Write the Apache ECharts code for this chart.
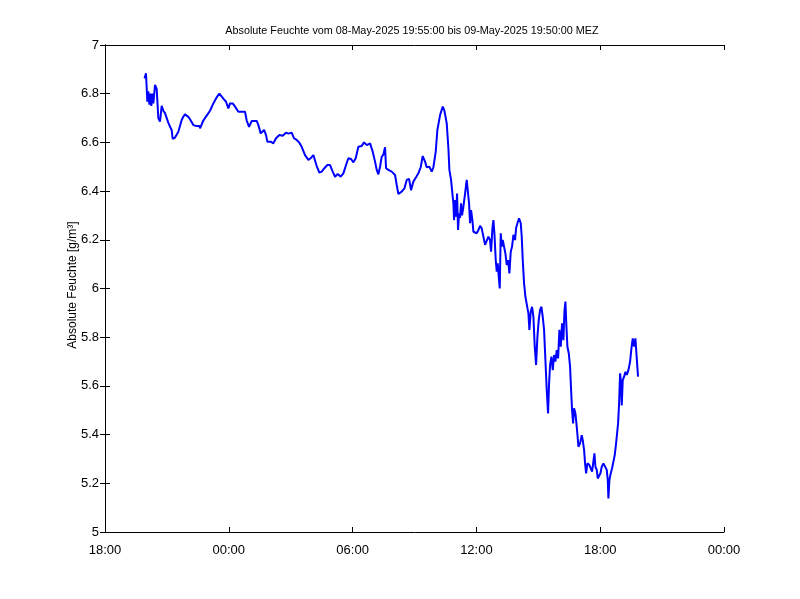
<!DOCTYPE html>
<html>
<head>
<meta charset="utf-8">
<script src="https://cdn.jsdelivr.net/npm/echarts@6/dist/echarts.min.js"></script>
<style>
html,body{margin:0;padding:0;background:#fff;}
#chart{width:800px;height:599px;}
</style>
</head>
<body>
<div id="chart"></div>
<script>
// Hours since 08-May-2025 18:00 (MEZ)
const hours = [
1.917,1.987,2.052,2.100,2.149,2.198,2.246,2.294,2.343,2.424,2.504,2.585,2.666,2.747,2.828,2.908,3.070,3.151,3.232,3.280,
3.393,3.555,3.716,3.797,3.878,3.959,4.040,4.120,4.282,4.443,4.573,4.605,4.767,4.928,5.090,5.251,5.413,5.542,5.736,5.865,
5.978,6.059,6.189,6.302,6.463,6.787,6.867,6.980,7.110,7.352,7.433,7.546,7.708,7.804,7.869,8.030,8.160,8.289,8.451,8.612,
8.774,8.887,9.048,9.161,9.290,9.420,
9.533,9.695,9.856,9.969,10.099,10.179,10.260,10.389,10.503,10.632,10.777,10.907,11.036,11.149,11.278,11.424,11.553,11.682,11.795,11.925,
12.038,12.151,12.280,12.441,12.555,12.684,12.846,12.975,13.088,13.169,13.249,13.330,13.411,13.492,13.573,13.621,13.734,13.896,14.057,14.138,
14.219,14.380,14.510,14.623,14.736,14.833,14.946,15.075,15.188,15.301,15.398,15.511,15.592,15.721,15.835,15.915,16.029,16.109,16.239,16.368,
16.449,16.562,16.643,16.691,
16.772,16.837,16.885,16.917,16.966,17.014,17.063,17.111,17.160,17.208,17.257,17.305,17.370,17.451,17.531,17.580,17.644,17.693,17.741,17.806,
17.855,17.935,18.016,18.097,18.178,18.258,18.339,18.420,18.501,18.582,18.662,18.711,18.776,18.824,18.873,18.937,18.986,19.034,19.083,19.131,
19.180,19.228,19.276,19.341,19.406,19.470,19.535,19.600,19.664,19.729,19.794,19.874,19.923,19.987,20.068,20.149,20.197,20.246,20.311,20.375,
20.440,20.521,20.569,20.634,20.698,20.763,20.828,20.892,20.957,21.022,21.086,21.151,21.215,21.280,21.345,21.409,21.474,21.522,21.571,21.636,
21.700,21.765,21.830,21.894,21.959,22.023,22.088,22.153,22.217,22.266,22.314,22.363,22.411,22.476,22.540,22.589,22.637,22.686,22.734,22.799,
22.864,22.912,
22.944,23.025,23.106,23.154,23.219,23.267,23.316,23.380,23.477,23.542,23.607,23.671,23.720,23.768,23.833,23.881,23.946,24.011,24.075,24.156,
24.237,24.318,24.366,24.398,24.447,24.511,24.576,24.641,24.705,24.770,24.818,24.867,24.915,24.964,24.996,25.045,25.093,25.158,25.223,25.287,
25.368,25.449,25.513,25.578,25.643,25.707,25.772,25.833
];
// Absolute humidity in g/m³
const values = [
6.863,6.884,6.767,6.81,6.755,6.80,6.75,6.80,6.76,6.836,6.82,6.70,6.685,6.75,6.73,6.72,6.68,6.675,6.65,6.614,
6.62,6.644,6.692,6.706,6.715,6.722,6.705,6.695,6.671,6.667,6.667,6.658,6.69,6.71,6.73,6.76,6.785,6.80,6.78,6.767,
6.74,6.76,6.76,6.747,6.726,6.726,6.69,6.664,6.688,6.688,6.671,6.637,6.651,6.63,6.603,6.603,6.596,6.617,6.63,6.627,
6.64,6.636,6.64,6.617,6.61,6.599,
6.582,6.548,6.528,6.535,6.548,6.545,6.503,6.476,6.48,6.494,6.507,6.507,6.48,6.459,6.47,6.459,6.473,6.507,6.535,6.532,
6.518,6.535,6.582,6.585,6.60,6.589,6.596,6.562,6.521,6.487,6.469,6.50,6.541,6.55,6.58,6.494,6.487,6.48,6.466,6.425,
6.388,6.398,6.411,6.446,6.45,6.404,6.439,6.457,6.473,6.498,6.544,6.521,6.498,6.50,6.48,6.498,6.562,6.651,6.712,6.747,
6.73,6.678,6.576,6.487,
6.446,6.39,6.35,6.281,6.363,6.295,6.39,6.24,6.309,6.29,6.35,6.30,6.336,6.39,6.446,6.404,6.35,6.268,6.322,6.281,
6.233,6.24,6.227,6.24,6.257,6.247,6.213,6.179,6.186,6.213,6.199,6.151,6.247,6.281,6.227,6.117,6.069,6.103,6.049,6.0,
6.227,6.172,6.199,6.192,6.144,6.097,6.117,6.062,6.151,6.172,6.22,6.199,6.247,6.268,6.288,6.268,6.213,6.117,6.021,5.966,
5.96,5.898,5.83,5.905,5.925,5.884,5.761,5.686,5.802,5.871,5.912,5.925,5.884,5.83,5.706,5.583,5.487,5.61,5.686,5.72,
5.665,5.727,5.70,5.747,5.713,5.83,5.761,5.857,5.788,5.905,5.946,5.843,5.761,5.734,5.679,5.583,5.50,5.446,5.508,5.487,
5.432,5.385,
5.35,5.364,5.398,5.377,5.337,5.282,5.241,5.282,5.275,5.268,5.248,5.241,5.323,5.268,5.255,5.22,5.227,5.241,5.268,5.282,
5.275,5.255,5.214,5.138,5.214,5.241,5.262,5.289,5.316,5.364,5.405,5.446,5.528,5.652,5.624,5.52,5.624,5.638,5.658,5.645,
5.665,5.70,5.754,5.795,5.761,5.795,5.713,5.638
];
const xTickLabels = ['18:00','00:00','06:00','12:00','18:00','00:00'];
const titleText = 'Absolute Feuchte vom 08-May-2025 19:55:00 bis 09-May-2025 19:50:00 MEZ';
const yName = 'Absolute Feuchte [g/m³]';

const FONT = '"Liberation Sans", Arial, sans-serif';
const data = hours.map((h, i) => [h, values[i]]);

const chart = echarts.init(document.getElementById('chart'), null, {renderer: 'canvas'});
const axisLine = {show: true, lineStyle: {color: '#000', width: 1}};
const tick = {show: true, inside: true, length: 5, lineStyle: {color: '#000', width: 1}};
chart.setOption({
  animation: false,
  backgroundColor: '#fff',
  graphic: [{
    type: 'text', x: 412, y: 31,
    style: {text: titleText, fill: '#000', font: '10.8px ' + FONT, textAlign: 'center', textVerticalAlign: 'middle'}
  }, {
    type: 'text', x: 73, y: 285, rotation: Math.PI / 2,
    style: {text: yName, fill: '#000', font: '12px ' + FONT, textAlign: 'center', textVerticalAlign: 'middle'}
  }],
  grid: {left: 105, right: 76, top: 45, bottom: 67, containLabel: false},
  xAxis: [{
    type: 'value', min: 0, max: 30, interval: 6, position: 'bottom',
    axisLine: axisLine, axisTick: tick, splitLine: {show: false},
    axisLabel: {show: true, margin: 12, color: '#000', fontFamily: FONT, fontSize: 13,
      formatter: v => xTickLabels[Math.round(v / 6)]}
  }, {
    type: 'value', min: 0, max: 30, interval: 6, position: 'top',
    axisLine: axisLine, axisTick: tick, splitLine: {show: false}, axisLabel: {show: false}
  }],
  yAxis: [{
    type: 'value', min: 5, max: 7, interval: 0.2, position: 'left',
    axisLine: axisLine, axisTick: tick, splitLine: {show: false},
    axisLabel: {show: true, margin: 6, color: '#000', fontFamily: FONT, fontSize: 13,
      formatter: v => String(parseFloat(v.toFixed(1)))}
  }, {
    type: 'value', min: 5, max: 7, interval: 0.2, position: 'right',
    axisLine: axisLine, axisTick: tick, splitLine: {show: false}, axisLabel: {show: false}
  }],
  series: [{
    type: 'line', xAxisIndex: 0, yAxisIndex: 0,
    data: data, showSymbol: false, symbol: 'none',
    lineStyle: {color: '#0000ff', width: 2},
    itemStyle: {color: '#0000ff'}
  }]
});
</script>
</body>
</html>
